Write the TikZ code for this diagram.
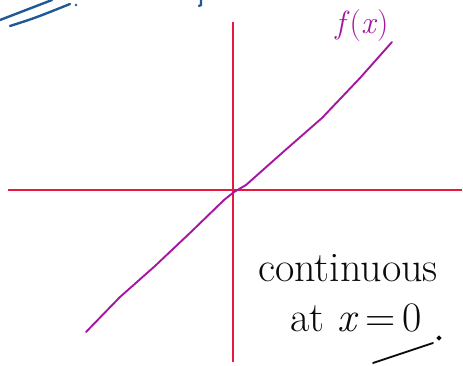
\documentclass[tikz,border=0pt]{standalone}
\usepackage{amsmath,amssymb}
\usepackage{xcolor}
\usepackage{tikz}
\usetikzlibrary{arrows.meta,positioning}
\definecolor{axisred}{HTML}{E8193C}
\definecolor{curvemag}{HTML}{A5169F}
\definecolor{penblue}{HTML}{1F5A96}
\definecolor{ink}{HTML}{0B0B0B}

\begin{document}
\begin{tikzpicture}[
  x=1pt, y=-1pt,
  axis/.style={draw=axisred, line width=1.5pt},
  fcurve/.style={draw=curvemag, line width=1.9pt, line cap=round, line join=round},
  pen/.style={draw=penblue, line width=2.4pt, line cap=round},
  ink/.style={draw=ink, line width=1.8pt, line cap=round},
  note/.style={font=\fontsize{42}{48}\selectfont, text=ink, inner sep=0pt}
]
\useasboundingbox (0,0) rectangle (463,365);
% axes
\coordinate (ytop) at (233,22);
\coordinate (ybot) at (233,362);
\coordinate (xl) at (8,190);
\coordinate (xr) at (462,190);
\draw[axis] (ytop) -- (ybot);
\draw[axis] (xl) -- (xr);
% the function, through the origin
\draw[fcurve] (86,332) -- (120,297) -- (155,266) -- (192,231) -- (224,200)
  -- (234,192) -- (246,185) -- (282,153) -- (322,118) -- (360,78) -- (392,42);
\node[text=curvemag, font=\fontsize{32}{36}\selectfont] (flab) at (362,26) {\textit{f\/}(\textit{x\/})};
% scribbles left over at the top
\draw[pen] (0,20) -- (52,0);
\draw[pen] (10,26) .. controls (35,18) .. (70,4);
\fill[penblue] (76,5) circle (1.4pt);
\draw[pen] (201,0) -- (201,5) -- (199,6);
% note
\node[note, anchor=west] (cont) at (258,268) {continuous};
\node[note, anchor=west] (atzero) at (290,318) {at \textit{x}\,=\,0};
\draw[ink] (373,363) -- (433,343);
\fill[ink] (439,338) circle (1.3pt);
\end{tikzpicture}
\end{document}
